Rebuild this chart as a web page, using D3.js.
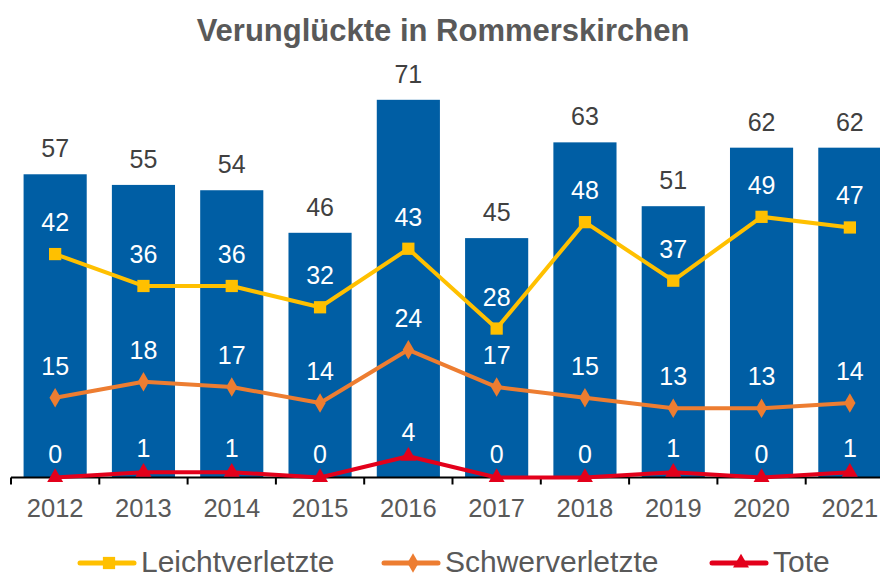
<!DOCTYPE html>
<html>
<head>
<meta charset="utf-8">
<script src="https://cdn.jsdelivr.net/npm/d3@7"></script>
<style>
    body { margin: 0; background: #fff; }
    text { font-family: "Liberation Sans", Arial, sans-serif; }
</style>
</head>
<body>
<script>
const years = ["2012", "2013", "2014", "2015", "2016", "2017", "2018", "2019", "2020", "2021"];
const totals = [57, 55, 54, 46, 71, 45, 63, 51, 62, 62];
const leicht = [42, 36, 36, 32, 43, 28, 48, 37, 49, 47];
const schwer = [15, 18, 17, 14, 24, 17, 15, 13, 13, 14];
const tote = [0, 1, 1, 0, 4, 0, 0, 1, 0, 1];

const width = 880;
const height = 579;

const svg = d3
    .select("body")
    .append("svg")
    .attr("width", width)
    .attr("height", height);

// plot area runs a bit past the right edge, like the original
const x = d3.scaleBand().domain(years).range([11, 894]).paddingInner(0.285).paddingOuter(0.1425);
const y = d3.scaleLinear().domain([0, 71]).range([477.5, 99.8]);

const barColour = "#005EA4";
const labelGrey = "#595959";

// title
svg.append("text")
    .attr("x", 443)
    .attr("y", 41)
    .attr("text-anchor", "middle")
    .attr("font-size", "31px")
    .attr("font-weight", "bold")
    .attr("fill", labelGrey)
    .text("Verunglückte in Rommerskirchen");

// bars
svg.selectAll(".bar")
    .data(totals)
    .enter()
    .append("rect")
    .attr("class", "bar")
    .attr("x", (d, i) => x(years[i]))
    .attr("width", x.bandwidth())
    .attr("y", (d) => y(d))
    .attr("height", (d) => y(0) - y(d))
    .attr("fill", barColour);

svg.selectAll(".barLabel")
    .data(totals)
    .enter()
    .append("text")
    .attr("class", "barLabel")
    .attr("x", (d, i) => x(years[i]) + x.bandwidth() / 2)
    .attr("y", (d) => y(d) - 17)
    .attr("text-anchor", "middle")
    .attr("font-size", "25px")
    .attr("fill", "#404040")
    .text((d) => d);

// x axis
const axis = svg.append("g").attr("transform", `translate(0, ${y(0)})`);
axis.append("line")
    .attr("x1", 11)
    .attr("x2", 894)
    .attr("stroke", "#000")
    .attr("stroke-width", 2);
const step = x.step();
axis.selectAll(".tick")
    .data(d3.range(years.length + 1))
    .enter()
    .append("line")
    .attr("x1", (i) => 11 + i * step)
    .attr("x2", (i) => 11 + i * step)
    .attr("y1", 0)
    .attr("y2", 7)
    .attr("stroke", "#000")
    .attr("stroke-width", 2);
svg.selectAll(".yearLabel")
    .data(years)
    .enter()
    .append("text")
    .attr("class", "yearLabel")
    .attr("x", (d) => x(d) + x.bandwidth() / 2)
    .attr("y", 517)
    .attr("text-anchor", "middle")
    .attr("font-size", "25.5px")
    .attr("fill", labelGrey)
    .text((d) => d);

// line series
const series = [
    { name: "Leichtverletzte", values: leicht, colour: "#FFC000", symbol: d3.symbolSquare, size: 150, offset: 23 },
    { name: "Schwerverletzte", values: schwer, colour: "#ED7D31", symbol: d3.symbolDiamond, size: 110, offset: 23 },
    { name: "Tote", values: tote, colour: "#E3001B", symbol: d3.symbolTriangle, size: 110, offset: 15 },
];

const cx = (i) => x(years[i]) + x.bandwidth() / 2;

const line = d3
    .line()
    .x((d, i) => cx(i))
    .y((d) => y(d));

series.forEach((s) => {
    svg.append("path")
        .datum(s.values)
        .attr("d", line)
        .attr("fill", "none")
        .attr("stroke", s.colour)
        .attr("stroke-width", 4)
        .attr("stroke-linejoin", "round");

    svg.selectAll(".marker-" + s.name)
        .data(s.values)
        .enter()
        .append("path")
        .attr("d", d3.symbol().type(s.symbol).size(s.size))
        .attr("transform", (d, i) => `translate(${cx(i)}, ${y(d)})`)
        .attr("fill", s.colour);

    svg.selectAll(".label-" + s.name)
        .data(s.values)
        .enter()
        .append("text")
        .attr("x", (d, i) => cx(i))
        .attr("y", (d) => y(d) - s.offset)
        .attr("text-anchor", "middle")
        .attr("font-size", "25px")
        .attr("fill", "#fff")
        .text((d) => d);
});

// legend
const legendX = [80, 384, 712];
const legendItems = svg
    .selectAll(".legend-item")
    .data(series)
    .enter()
    .append("g")
    .attr("class", "legend-item")
    .attr("transform", (d, i) => `translate(${legendX[i]}, 563)`);

legendItems.append("line")
    .attr("x1", 0)
    .attr("x2", 54)
    .attr("stroke", (d) => d.colour)
    .attr("stroke-width", 5)
    .attr("stroke-linecap", "round");
legendItems.append("path")
    .attr("d", (d) => d3.symbol().type(d.symbol).size(d.size)())
    .attr("transform", "translate(29, 0)")
    .attr("fill", (d) => d.colour);
legendItems.append("text")
    .attr("x", 61)
    .attr("y", 9)
    .attr("font-size", "30px")
    .attr("fill", labelGrey)
    .text((d) => d.name);
</script>
</body>
</html>
